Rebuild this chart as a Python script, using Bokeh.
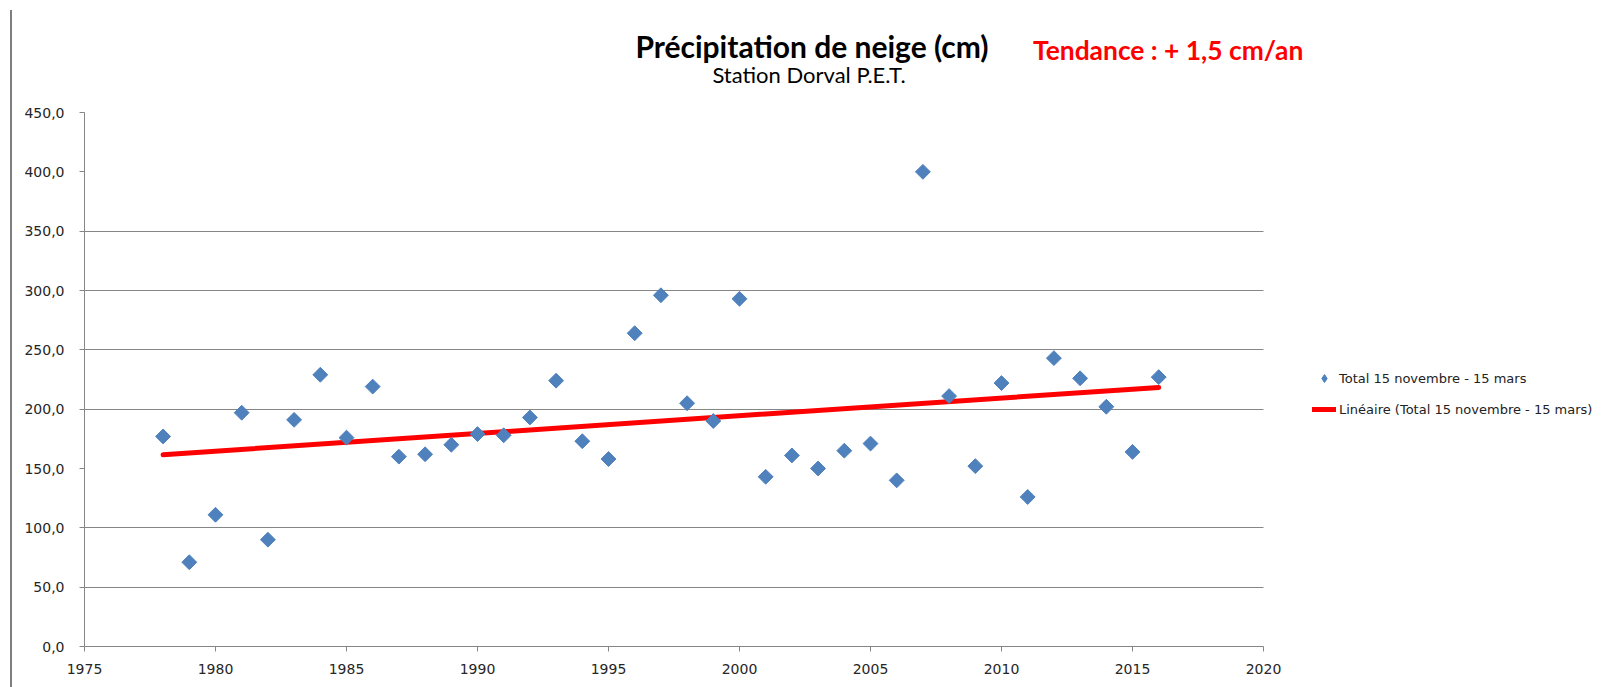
import numpy as np
from bokeh.plotting import figure
from bokeh.layouts import row, column
from bokeh.models import (Range1d, FixedTicker, CustomJSTickFormatter, Div,
                          Legend, LegendItem, Spacer)
from bokeh.embed import file_html
from bokeh.resources import INLINE

# ---- data ----
years = list(range(1978, 2017))
snow = [177, 71, 111, 197, 90, 191, 229, 176, 219, 160, 162, 170, 179, 178,
        193, 224, 173, 158, 264, 296, 205, 190, 293, 143, 161, 150, 165, 171,
        140, 400, 211, 152, 222, 126, 243, 226, 202, 164, 227]
x_ticks = [1975, 1980, 1985, 1990, 1995, 2000, 2005, 2010, 2015, 2020]
y_ticks = [0, 50, 100, 150, 200, 250, 300, 350, 400, 450]
y_grid_ticks = [0, 50, 100, 200, 250, 300, 350, 450]
title_text = "Précipitation de neige (cm)"
subtitle_text = "Station Dorval P.E.T."
trend_text = "Tendance : + 1,5 cm/an"
series_name = "Total 15 novembre - 15 mars"
trend_name = "Linéaire (Total 15 novembre - 15 mars)"

# linear trend (least squares)
slope, intercept = np.polyfit(years, snow, 1)
trend_x = [years[0], years[-1]]
trend_y = [slope * years[0] + intercept, slope * years[-1] + intercept]

GRAY = "#868686"
X0, X1 = x_ticks[0], x_ticks[-1]
# frame extends to the right of the axis end so the legend can sit inside it
x_view_end = X0 + 1512 / (1179 / (X1 - X0))

p = figure(width=1584, height=580, output_backend="svg", toolbar_location=None,
           x_range=Range1d(X0, x_view_end), y_range=Range1d(0, 450),
           min_border_left=72, min_border_right=0, min_border_top=12,
           min_border_bottom=34, margin=0)
p.outline_line_color = None
p.background_fill_color = "white"
p.border_fill_color = "white"

p.xaxis.ticker = FixedTicker(ticks=x_ticks)
p.xaxis.bounds = (X0, X1)
p.yaxis.ticker = FixedTicker(ticks=y_ticks)
p.yaxis.formatter = CustomJSTickFormatter(code="return tick.toFixed(1).replace('.', ',');")
for ax in (p.xaxis, p.yaxis):
    ax.axis_line_color = GRAY
    ax.major_tick_line_color = GRAY
    ax.major_tick_in = 0
    ax.major_tick_out = 5
    ax.minor_tick_line_color = None
    ax.major_label_text_font = "DejaVu Sans"
    ax.major_label_text_font_size = "14px"
    ax.major_label_text_color = "#262626"
p.xaxis.major_label_standoff = 12
p.yaxis.major_label_standoff = 15

p.xgrid.grid_line_color = None
p.ygrid.ticker = FixedTicker(ticks=y_grid_ticks)
p.ygrid.grid_line_color = GRAY
p.ygrid.grid_line_width = 1
if hasattr(p.ygrid, "cross_bounds"):
    p.ygrid.cross_bounds = (X0, X1)

trend_r = p.line(trend_x, trend_y, line_color="#FF0000", line_width=5,
                 line_cap="round")
pts_r = p.scatter(years, snow, marker="square", angle=np.pi / 4, size=10.5,
                  fill_color="#4F81BD", line_color="#4F81BD")
# hidden renderer used only as the legend swatch (diamond)
pts_key = p.scatter(years, snow, marker="diamond", size=11,
                    fill_color="#4F81BD", line_color="#4F81BD", visible=False)

legend = Legend(items=[LegendItem(label=series_name, renderers=[pts_key]),
                       LegendItem(label=trend_name, renderers=[trend_r])],
                location=(1228, 227), padding=0, margin=0, spacing=11,
                glyph_width=24, glyph_height=20, label_height=20,
                label_standoff=3, border_line_color=None,
                background_fill_alpha=0, inactive_fill_alpha=0,
                label_text_font="DejaVu Sans", label_text_font_size="13px",
                label_text_color="#222222")
p.add_layout(legend, "center")

header_html = f"""
<div style="position:relative;width:1584px;height:100px;font-family:Lato,'Open Sans',sans-serif;">
  <span style="position:absolute;left:800px;top:46px;transform:translate(-50%,-50%);white-space:nowrap;font-weight:bold;font-size:30px;color:#000;">{title_text}</span>
  <span style="position:absolute;left:797px;top:75px;transform:translate(-50%,-50%);white-space:nowrap;font-size:22px;color:#000;">{subtitle_text}</span>
  <span style="position:absolute;left:1021px;top:51px;transform:translate(0,-50%);white-space:nowrap;font-weight:bold;font-size:26.4px;color:#FF0000;">{trend_text}</span>
</div>
"""
header = Div(text=header_html, width=1584, height=100, margin=0)

left_gap = Spacer(width=10, height=10, margin=0)
left_line = Div(text="", width=2, height=677, margin=(10, 0, 0, 0),
                styles={"background-color": "#7F7F7F"})

layout = row(left_gap, left_line, column(header, p, spacing=0, margin=0),
             spacing=0, margin=0)

open("out.html", "w").write(file_html(layout, INLINE))
